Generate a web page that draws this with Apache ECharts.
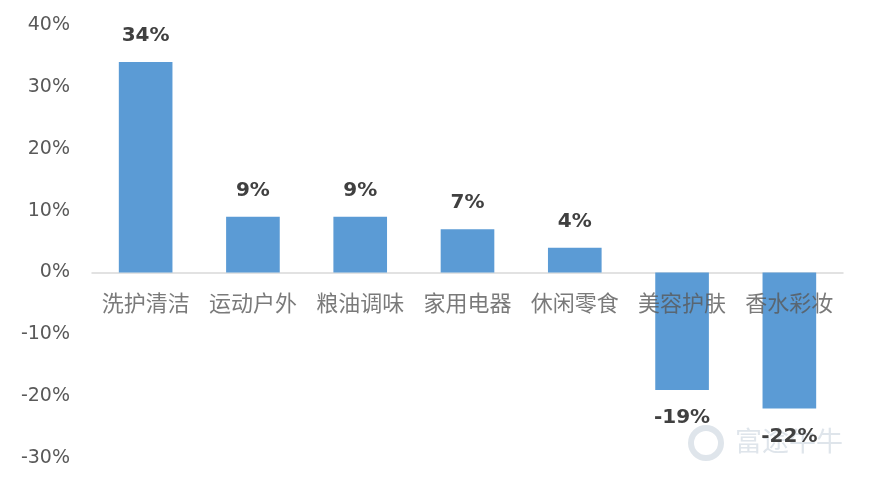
<!DOCTYPE html>
<html><head><meta charset="utf-8">
<script src="https://cdn.jsdelivr.net/npm/echarts@6/dist/echarts.min.js"></script>
<style>html,body{margin:0;padding:0;background:#fff}#c{width:869px;height:483px}</style>
</head><body><div id="c"></div>
<script>
const categories = ['洗护清洁','运动户外','粮油调味','家用电器','休闲零食','美容护肤','香水彩妆'];
const values = [34, 9, 9, 7, 4, -19, -22];
const yTicks = [-30, -20, -10, 0, 10, 20, 30, 40];

const chart = echarts.init(document.getElementById('c'));
chart.setOption({
  animation: false,
  backgroundColor: '#fff',
  grid: { left: 92, right: 26, top: 25, bottom: 25, containLabel: false },
  xAxis: {
    type: 'category', data: categories,
    axisLine: { onZero: true, lineStyle: { color: '#d9d9d9', width: 1.5 } },
    axisTick: { show: false },
    axisLabel: { show: false }
  },
  yAxis: {
    type: 'value', min: yTicks[0], max: yTicks[yTicks.length-1], interval: 10,
    axisLine: { show: false }, axisTick: { show: false },
    splitLine: { show: false },
    axisLabel: { formatter: v => v + '%', color: '#595959', fontSize: 19, margin: 22, fontFamily: 'DejaVu Sans, sans-serif' }
  },
  series: [{
    type: 'bar', data: values.map(v => v < 0 ? { value: v, label: { position: 'bottom', distance: 18 } } : v),
    barWidth: '50%',
    itemStyle: { color: '#5b9bd5' },
    label: {
      show: true, position: 'top', distance: 16,
      formatter: p => p.value + '%',
      color: '#404040', fontSize: 20, fontWeight: 'bold', fontFamily: 'DejaVu Sans, sans-serif'
    }
  }, {
    type: 'scatter', data: categories.map(c => [c, 0]), symbolSize: 0, silent: true,
    label: { show: true, position: 'bottom', distance: 19, formatter: p => categories[p.dataIndex],
      color: '#595959', fontSize: 22, fontFamily: 'Noto Sans CJK SC, sans-serif' }
  }],
  graphic: [{
    type: 'text', left: 735, top: 427,
    style: { text: '富途牛牛', fill: '#dfe5eb', font: '27px "Noto Sans CJK SC"' }
  }, {
    type: 'circle', shape: { cx: 706, cy: 443, r: 15 }, style: { fill: 'none', stroke: '#dfe5eb', lineWidth: 6 }
  }]
});
</script></body></html>
